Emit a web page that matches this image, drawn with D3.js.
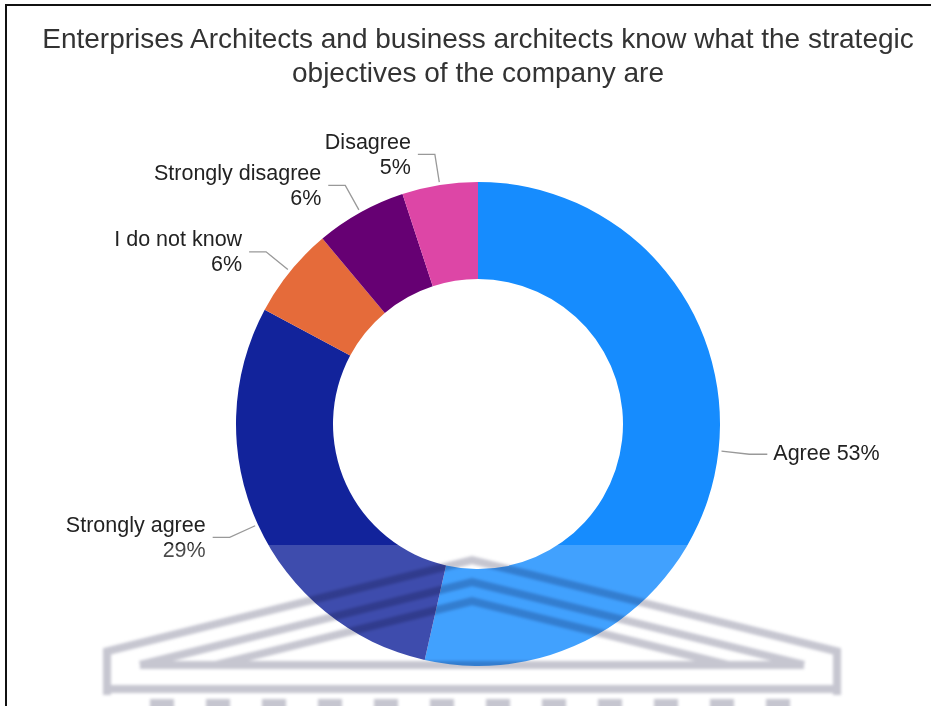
<!DOCTYPE html>
<html>
<head>
<meta charset="utf-8">
<script src="https://cdn.jsdelivr.net/npm/d3@7"></script>
<style>
  html, body { margin: 0; padding: 0; background: #fff; }
  svg { display: block; }
  text { font-family: "Liberation Sans", Arial, sans-serif; }
</style>
</head>
<body>
<svg id="chart" width="931" height="706"></svg>
<script>
// Survey answers and their shares (percent)
const categories = ["Agree", "Strongly agree", "I do not know", "Strongly disagree", "Disagree"];
const values = [53, 29, 6, 6, 5];
const sliceColors = ["#168cfe", "#12239b", "#e56b3a", "#660073", "#dd46a6"];
const titleLines = [
  "Enterprises Architects and business architects know what the strategic",
  "objectives of the company are"
];

const W = 931, H = 706;
const cx = 478, cy = 424;
const outerR = 242, innerR = 145;

const svg = d3.select("#chart");

// frame edges
svg.append("line").attr("x1", 5).attr("x2", W).attr("y1", 5).attr("y2", 5)
  .attr("stroke", "#111").attr("stroke-width", 2);
svg.append("line").attr("x1", 6).attr("x2", 6).attr("y1", 5).attr("y2", H)
  .attr("stroke", "#111").attr("stroke-width", 2);

// title
svg.append("text")
  .attr("x", cx).attr("y", 38)
  .attr("text-anchor", "middle")
  .attr("fill", "#333")
  .style("font-size", "28px")
  .selectAll("tspan")
  .data(titleLines)
  .join("tspan")
  .attr("x", cx)
  .attr("dy", (d, i) => i === 0 ? "0.35em" : "34px")
  .text(d => d);

// donut
const data = categories.map((c, i) => ({ category: c, value: values[i], color: sliceColors[i] }));
const pie = d3.pie().value(d => d.value).sort(null).startAngle(0).endAngle(2 * Math.PI);
const arcs = pie(data);
const arc = d3.arc().innerRadius(innerR).outerRadius(outerR);

const g = svg.append("g").attr("transform", `translate(${cx},${cy})`);
g.selectAll("path.slice")
  .data(arcs)
  .join("path")
  .attr("class", "slice")
  .attr("d", arc)
  .attr("fill", d => d.data.color);

// leader lines and labels
const polar = (r, a) => [r * Math.sin(a), -r * Math.cos(a)];
const labels = svg.append("g").attr("transform", `translate(${cx},${cy})`);

arcs.forEach(a => {
  const mid = (a.startAngle + a.endAngle) / 2;
  const right = Math.sin(mid) > 0;
  const p0 = polar(outerR + 3, mid);
  const p1 = polar(outerR + 31, mid);
  const p2 = [p1[0] + (right ? 18 : -17), p1[1]];
  labels.append("polyline")
    .attr("points", [p0, p1, p2].map(p => p.join(",")).join(" "))
    .attr("fill", "none")
    .attr("stroke", "#999")
    .attr("stroke-width", 1.3);

  const pct = a.data.value + "%";
  if (right) {
    labels.append("text")
      .attr("x", p2[0] + 6).attr("y", p2[1] - 2)
      .attr("dy", "0.35em")
      .attr("fill", "#222")
      .style("font-size", "21.5px")
      .text(a.data.category + " " + pct);
  } else {
    const t = labels.append("text")
      .attr("text-anchor", "end")
      .attr("fill", "#222")
      .style("font-size", "21.5px");
    t.append("tspan").attr("x", p2[0] - 7).attr("y", p2[1] - 13).attr("dy", "0.35em").text(a.data.category);
    t.append("tspan").attr("x", p2[0] - 7).attr("y", p2[1] + 12).attr("dy", "0.35em").text(pct);
  }
});

// faded emblem printed across the lower part of the page
const defs = svg.append("defs");
defs.append("filter").attr("id", "soft")
  .attr("x", "-5%").attr("y", "-20%").attr("width", "110%").attr("height", "140%")
  .append("feGaussianBlur").attr("stdDeviation", 1.6);

svg.append("rect")
  .attr("x", 77).attr("y", 545).attr("width", 801).attr("height", H - 545)
  .attr("fill", "#fff").attr("opacity", 0.19);

const emblem = svg.append("g")
  .attr("filter", "url(#soft)")
  .style("mix-blend-mode", "multiply")
  .attr("fill", "none")
  .attr("stroke", "#c6c6d0")
  .attr("stroke-width", 8);

const ex = 472, slope = 0.25;
// roof outline
emblem.append("path").attr("d",
  `M107,695 L107,${560 + slope * (ex - 107)} L${ex},560 L837,${560 + slope * (837 - ex)} L837,695`);
// inner roof lines
[582, 601].forEach(top => {
  const half = (665 - top) / slope;
  emblem.append("path").attr("d", `M${ex - half},665 L${ex},${top} L${ex + half},665`);
});
// entablature
emblem.append("line").attr("x1", 140).attr("x2", 804).attr("y1", 665).attr("y2", 665);
emblem.append("line").attr("x1", 107).attr("x2", 837).attr("y1", 689).attr("y2", 689);
// column tops
d3.range(150, 800, 56).forEach(x => {
  emblem.append("rect").attr("x", x).attr("y", 699).attr("width", 24).attr("height", 12)
    .attr("fill", "#c6c6d0").attr("stroke", "none");
});
</script>
</body>
</html>
